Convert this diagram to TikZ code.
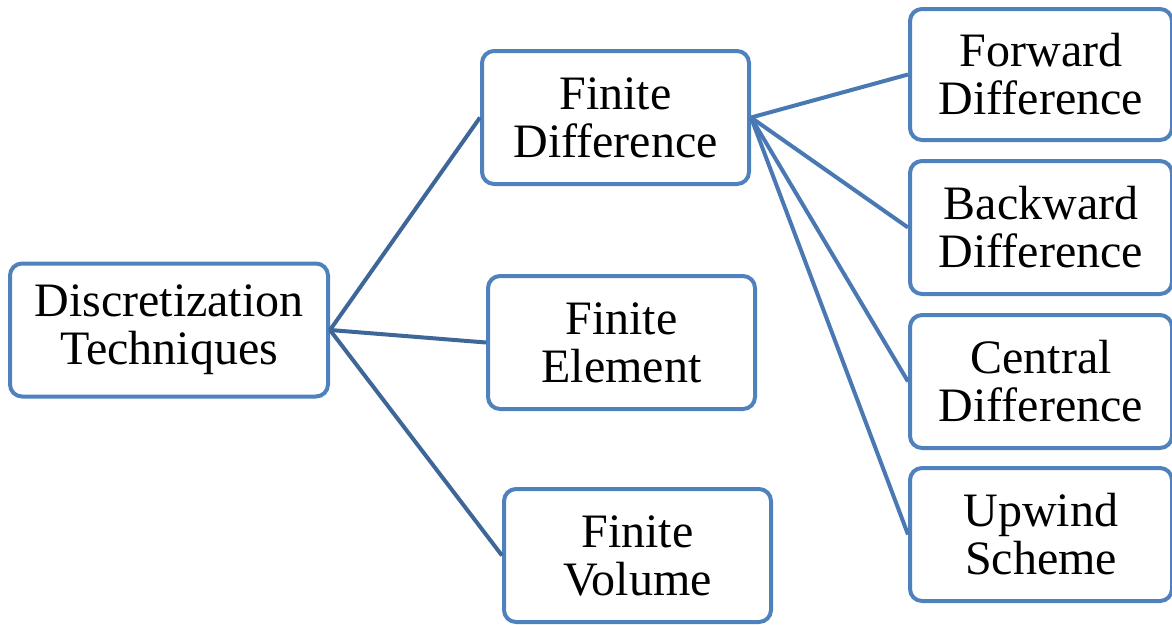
\documentclass[tikz,border=0pt]{standalone}
\usepackage{fontspec}
\setmainfont{Liberation Serif}
\definecolor{boxblue}{HTML}{4F81BD}
\definecolor{linkdark}{HTML}{3F6699}
\definecolor{linklight}{HTML}{4A78B3}
\begin{document}
\begin{tikzpicture}[x=1pt,y=-1pt,
  box/.style={draw=boxblue, line width=4pt, rounded corners=12pt, fill=white,
    align=center, inner sep=0pt, font=\fontsize{48}{48}\selectfont,
    minimum width=#1},
  box/.default=267pt,
  link1/.style={draw=linkdark, line width=4pt},
  link2/.style={draw=linklight, line width=4pt}]
\useasboundingbox (0,0) rectangle (1172,624);
\node[box=318pt, minimum height=133pt] (disc) at (169,330) {Discretization\\Techniques};
\node[box, minimum height=133pt] (fd) at (615.5,117.5) {Finite\\Difference};
\node[box, minimum height=133pt] (fe) at (621.5,342.5) {Finite\\Element};
\node[box, minimum height=133pt] (fv) at (637.5,555.5) {Finite\\Volume};
\node[box=262pt, minimum height=131pt] (fwd) at (1041,74.5) {Forward\\Difference};
\node[box=262pt, minimum height=133pt] (bwd) at (1041,227.5) {Backward\\Difference};
\node[box=262pt, minimum height=133pt] (cen) at (1041,381.5) {Central\\Difference};
\node[box=262pt, minimum height=133pt] (upw) at (1041,534.5) {Upwind\\Scheme};
\draw[link1] (disc.east) -- (fd.west);
\draw[link1] (disc.east) -- (fe.west);
\draw[link1] (disc.east) -- (fv.west);
\draw[link2] (fd.east) -- (fwd.west);
\draw[link2] (fd.east) -- (bwd.west);
\draw[link2] (fd.east) -- (cen.west);
\draw[link2] (fd.east) -- (upw.west);
\end{tikzpicture}
\end{document}
